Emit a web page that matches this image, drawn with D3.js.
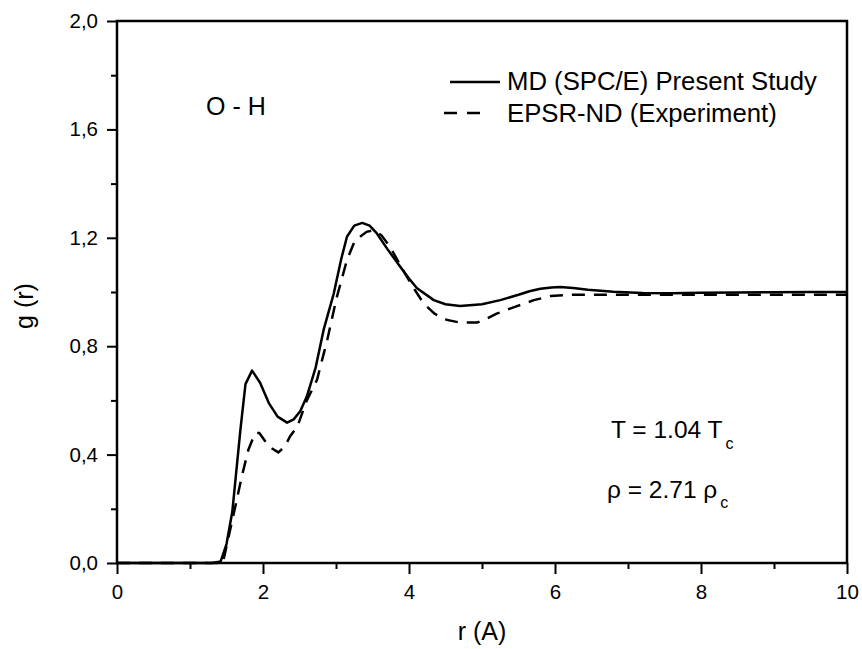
<!DOCTYPE html>
<html>
<head>
<meta charset="utf-8">
<script src="https://cdn.jsdelivr.net/npm/d3@7"></script>
<style>
  html, body { margin: 0; padding: 0; background: #fff; }
  svg { display: block; font-family: "Liberation Sans", Arial, sans-serif; }
</style>
</head>
<body>
<svg id="chart" width="862" height="649"></svg>
<script>
// ---- data ----
const mdR = [0, 1.3, 1.42, 1.5, 1.58, 1.69, 1.76, 1.85, 1.96, 2.08, 2.2, 2.33, 2.42, 2.51, 2.6, 2.72, 2.83, 2.97, 3.07, 3.15, 3.25, 3.36, 3.46, 3.56, 3.7, 3.88, 4.0, 4.11, 4.34, 4.5, 4.7, 5.0, 5.25, 5.5, 5.65, 5.8, 5.95, 6.07, 6.25, 6.45, 6.8, 7.2, 7.6, 8, 8.5, 9, 9.5, 10];
const mdG = [0, 0, 0.006, 0.07, 0.19, 0.49, 0.66, 0.71, 0.665, 0.59, 0.54, 0.518, 0.53, 0.56, 0.614, 0.72, 0.86, 0.995, 1.12, 1.204, 1.245, 1.255, 1.245, 1.216, 1.16, 1.093, 1.05, 1.014, 0.97, 0.955, 0.948, 0.955, 0.97, 0.99, 1.003, 1.012, 1.017, 1.018, 1.015, 1.008, 1.001, 0.996, 0.995, 0.997, 0.998, 0.999, 1.0, 1.0];

const expR = [0, 1.3, 1.45, 1.55, 1.63, 1.71, 1.80, 1.89, 1.95, 2.08, 2.21, 2.3, 2.37, 2.47, 2.6, 2.74, 2.88, 3.01, 3.15, 3.26, 3.42, 3.52, 3.62, 3.74, 3.93, 4.05, 4.2, 4.35, 4.52, 4.7, 4.93, 5.05, 5.2, 5.45, 5.71, 5.94, 6.25, 6.6, 7, 8, 9, 10];
const expG = [0, 0, 0.0, 0.123, 0.22, 0.32, 0.418, 0.479, 0.48, 0.43, 0.408, 0.43, 0.467, 0.503, 0.60, 0.676, 0.823, 0.98, 1.118, 1.19, 1.222, 1.228, 1.21, 1.167, 1.075, 1.02, 0.958, 0.92, 0.897, 0.887, 0.887, 0.9, 0.92, 0.945, 0.97, 0.985, 0.99, 0.99, 0.99, 0.99, 0.99, 0.99];

const xMajorTicks = [0, 2, 4, 6, 8, 10];
const xMinorTicks = [1, 3, 5, 7, 9];
const yMajorTicks = [0, 0.4, 0.8, 1.2, 1.6, 2.0];
const yMinorTicks = [0.2, 0.6, 1.0, 1.4, 1.8];

const seriesNames = ["MD (SPC/E) Present Study", "EPSR-ND (Experiment)"];
const pairLabel = "O - H";

// ---- layout ----
const pL = 117, pR = 847, pT = 21, pB = 563;
const svg = d3.select("#chart");

const x = d3.scaleLinear().domain([0, 10]).range([pL, pR]);
const y = d3.scaleLinear().domain([0, 2.0]).range([pB, pT]);

const fmt = d => d3.format(".1f")(d).replace(".", ",");
const FONT = '"Liberation Sans", Arial, sans-serif';

// minor ticks
svg.append("g").attr("transform", `translate(0,${pB})`)
  .call(d3.axisBottom(x).tickValues(xMinorTicks).tickSize(6).tickFormat(""))
  .call(g => g.select(".domain").remove())
  .call(g => g.selectAll("line").attr("stroke", "#000").attr("stroke-width", 2));
svg.append("g").attr("transform", `translate(${pL},0)`)
  .call(d3.axisLeft(y).tickValues(yMinorTicks).tickSize(6).tickFormat(""))
  .call(g => g.select(".domain").remove())
  .call(g => g.selectAll("line").attr("stroke", "#000").attr("stroke-width", 2));

// major ticks
svg.append("g").attr("transform", `translate(0,${pB})`)
  .call(d3.axisBottom(x).tickValues(xMajorTicks).tickSize(11).tickPadding(10).tickFormat(d3.format("d")))
  .call(g => g.select(".domain").remove())
  .call(g => g.selectAll("line").attr("stroke", "#000").attr("stroke-width", 2))
  .call(g => g.selectAll("text").attr("fill", "#000").style("font-size", "20.5px").style("font-family", FONT));
svg.append("g").attr("transform", `translate(${pL},0)`)
  .call(d3.axisLeft(y).tickValues(yMajorTicks).tickSize(10).tickPadding(9).tickFormat(fmt))
  .call(g => g.select(".domain").remove())
  .call(g => g.selectAll("line").attr("stroke", "#000").attr("stroke-width", 2))
  .call(g => g.selectAll("text").attr("fill", "#000").style("font-size", "20.5px").style("font-family", FONT));

// frame
svg.append("rect")
  .attr("x", pL).attr("y", pT)
  .attr("width", pR - pL).attr("height", pB - pT)
  .attr("fill", "none").attr("stroke", "#000").attr("stroke-width", 2.5);

// curves
const line = d3.line().x(d => x(d[0])).y(d => y(d[1])).curve(d3.curveLinear);
const mdData = mdR.map((r, i) => [r, mdG[i]]);
const expData = expR.map((r, i) => [r, expG[i]]);

svg.append("path").datum(expData)
  .attr("d", line).attr("fill", "none").attr("stroke", "#000")
  .attr("stroke-width", 2.5).attr("stroke-dasharray", "13,9");
svg.append("path").datum(mdData)
  .attr("d", line).attr("fill", "none").attr("stroke", "#000")
  .attr("stroke-width", 2.5).attr("stroke-linejoin", "round");

// axis titles
svg.append("text").attr("x", 482).attr("y", 640).attr("text-anchor", "middle")
  .style("font-size", "25px").text("r (A)");
svg.append("text").attr("transform", "translate(33,306) rotate(-90)")
  .attr("text-anchor", "middle").style("font-size", "25px").text("g (r)");

// legend
svg.append("line").attr("x1", 450).attr("x2", 500).attr("y1", 82).attr("y2", 82)
  .attr("stroke", "#000").attr("stroke-width", 2.5);
svg.append("text").attr("x", 507).attr("y", 90).style("font-size", "25.7px").text(seriesNames[0]);
svg.append("line").attr("x1", 444).attr("x2", 481).attr("y1", 113).attr("y2", 113)
  .attr("stroke", "#000").attr("stroke-width", 2.5).attr("stroke-dasharray", "13,10");
svg.append("text").attr("x", 507).attr("y", 121.5).style("font-size", "25.7px").text(seriesNames[1]);

// pair label
svg.append("text").attr("x", 206).attr("y", 115).style("font-size", "25px").text(pairLabel);

// annotations
const t1 = svg.append("text").attr("x", 611).attr("y", 438).style("font-size", "24.5px");
t1.append("tspan").text("T = 1.04 T");
t1.append("tspan").attr("dy", 11).attr("dx", 3).style("font-size", "16px").text("c");

const t2 = svg.append("text").attr("x", 607).attr("y", 498).style("font-size", "24.5px");
t2.append("tspan").text("\u03c1 = 2.71 \u03c1");
t2.append("tspan").attr("dy", 10).attr("dx", 3).style("font-size", "16px").text("c");
</script>
</body>
</html>
